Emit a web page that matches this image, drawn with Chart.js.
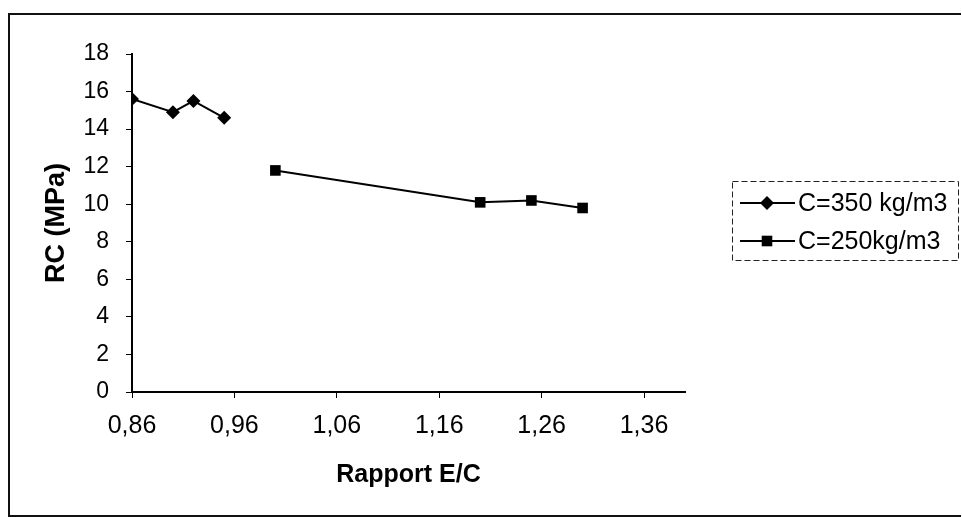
<!DOCTYPE html>
<html>
<head>
<meta charset="utf-8">
<script src="https://cdn.jsdelivr.net/npm/chart.js@4/dist/chart.umd.min.js"></script>
<style>
  html, body { margin: 0; padding: 0; background: #fff; }
  #wrap { width: 962px; height: 517px; }
</style>
</head>
<body>
<div id="wrap"><canvas id="rcChart" width="962" height="517"></canvas></div>
<script>
  // valeurs
  const ratio350 = [0.86, 0.90, 0.92, 0.95];
  const rc350 = [15.6, 14.9, 15.5, 14.6];
  const ratio250 = [1.00, 1.20, 1.25, 1.30];
  const rc250 = [11.8, 10.1, 10.2, 9.8];

  const xTicks = [0.86, 0.96, 1.06, 1.16, 1.26, 1.36];
  const yTicks = [0, 2, 4, 6, 8, 10, 12, 14, 16, 18];

  const seriesLabels = ["C=350 kg/m3", "C=250kg/m3"];

  const FONT = "'Liberation Sans', Arial, sans-serif";
  Chart.defaults.font.family = FONT;
  Chart.defaults.color = "#000";

  const toPoints = (xs, ys) => xs.map((x, i) => ({ x: x, y: ys[i] }));

  // cadre autour du graphique
  const framePlugin = {
    id: "frame",
    beforeDraw(chart) {
      const ctx = chart.ctx;
      ctx.save();
      ctx.fillStyle = "#fff";
      ctx.fillRect(0, 0, chart.width, chart.height);
      ctx.strokeStyle = "#111";
      ctx.lineWidth = 2;
      ctx.beginPath();
      ctx.moveTo(961, 14);
      ctx.lineTo(9, 14);
      ctx.lineTo(9, 516);
      ctx.lineTo(961, 516);
      ctx.stroke();
      ctx.restore();
    },
  };

  // légende façon Excel : trait + marqueur + texte
  const legendPlugin = {
    id: "excelLegend",
    afterDraw(chart) {
      const ctx = chart.ctx;
      const box = { x: 732, y: 181, w: 226, h: 79 };
      ctx.save();
      ctx.strokeStyle = "#222";
      ctx.lineWidth = 1;
      ctx.setLineDash([6, 3]);
      ctx.strokeRect(box.x + 0.5, box.y + 0.5, box.w, box.h);
      ctx.setLineDash([]);
      const rows = [203, 241];
      chart.data.datasets.forEach((ds, i) => {
        const y = rows[i];
        ctx.strokeStyle = ds.borderColor;
        ctx.lineWidth = ds.borderWidth;
        ctx.beginPath();
        ctx.moveTo(740, y);
        ctx.lineTo(795, y);
        ctx.stroke();
        ctx.fillStyle = ds.pointBackgroundColor;
        Chart.helpers.drawPoint(ctx, {
          pointStyle: ds.pointStyle,
          radius: ds.pointRadius,
          borderWidth: 0,
          rotation: 0,
        }, 767, y);
        ctx.fillStyle = "#000";
        ctx.font = "25px " + FONT;
        ctx.textBaseline = "middle";
        ctx.textAlign = "left";
        ctx.fillText(ds.label, 798, y + 1);
      });
      ctx.restore();
    },
  };

  document.addEventListener("DOMContentLoaded", () => {
    const ctx = document.getElementById("rcChart").getContext("2d");
    new Chart(ctx, {
      type: "scatter",
      data: {
        datasets: [
          {
            label: seriesLabels[0],
            data: toPoints(ratio350, rc350),
            showLine: true,
            borderColor: "#000",
            borderWidth: 2,
            pointStyle: "rectRot",
            pointRadius: 7,
            pointBackgroundColor: "#000",
            pointBorderColor: "#000",
            pointBorderWidth: 0,
          },
          {
            label: seriesLabels[1],
            data: toPoints(ratio250, rc250),
            showLine: true,
            borderColor: "#000",
            borderWidth: 2,
            pointStyle: "rect",
            pointRadius: 7.5,
            pointBackgroundColor: "#000",
            pointBorderColor: "#000",
            pointBorderWidth: 0,
          },
        ],
      },
      options: {
        responsive: false,
        animation: false,
        layout: { padding: { top: 54, right: 277, bottom: 0, left: 0 } },
        plugins: {
          legend: { display: false },
          tooltip: { enabled: false },
        },
        scales: {
          x: {
            type: "linear",
            min: 0.86,
            max: 1.40,
            afterBuildTicks: (scale) => {
              scale.ticks = xTicks.map((v) => ({ value: v }));
            },
            afterFit: (scale) => {
              scale.height = 125;
            },
            ticks: {
              font: { size: 25 },
              padding: 13,
              maxRotation: 0,
              autoSkip: false,
              callback: (v) => v.toFixed(2).replace(".", ","),
            },
            grid: { drawOnChartArea: false, drawTicks: true, tickLength: 6, color: "#000", lineWidth: 1 },
            border: { display: true, color: "#000", width: 2 },
            title: {
              display: true,
              text: "Rapport E/C",
              font: { size: 25, weight: "bold" },
              padding: { top: 0, bottom: 27 },
            },
          },
          y: {
            type: "linear",
            min: 0,
            max: 18,
            afterBuildTicks: (scale) => {
              scale.ticks = yTicks.map((v) => ({ value: v }));
            },
            afterFit: (scale) => {
              scale.width = 132;
            },
            ticks: {
              font: { size: 23 },
              padding: 17,
              autoSkip: false,
            },
            grid: { drawOnChartArea: false, drawTicks: true, tickLength: 6, color: "#000", lineWidth: 1 },
            border: { display: true, color: "#000", width: 2 },
            title: {
              display: true,
              text: "RC (MPa)",
              font: { size: 27, weight: "bold" },
              padding: { top: 40, bottom: 0 },
            },
          },
        },
      },
      plugins: [framePlugin, legendPlugin],
    });
  });
</script>
</body>
</html>
